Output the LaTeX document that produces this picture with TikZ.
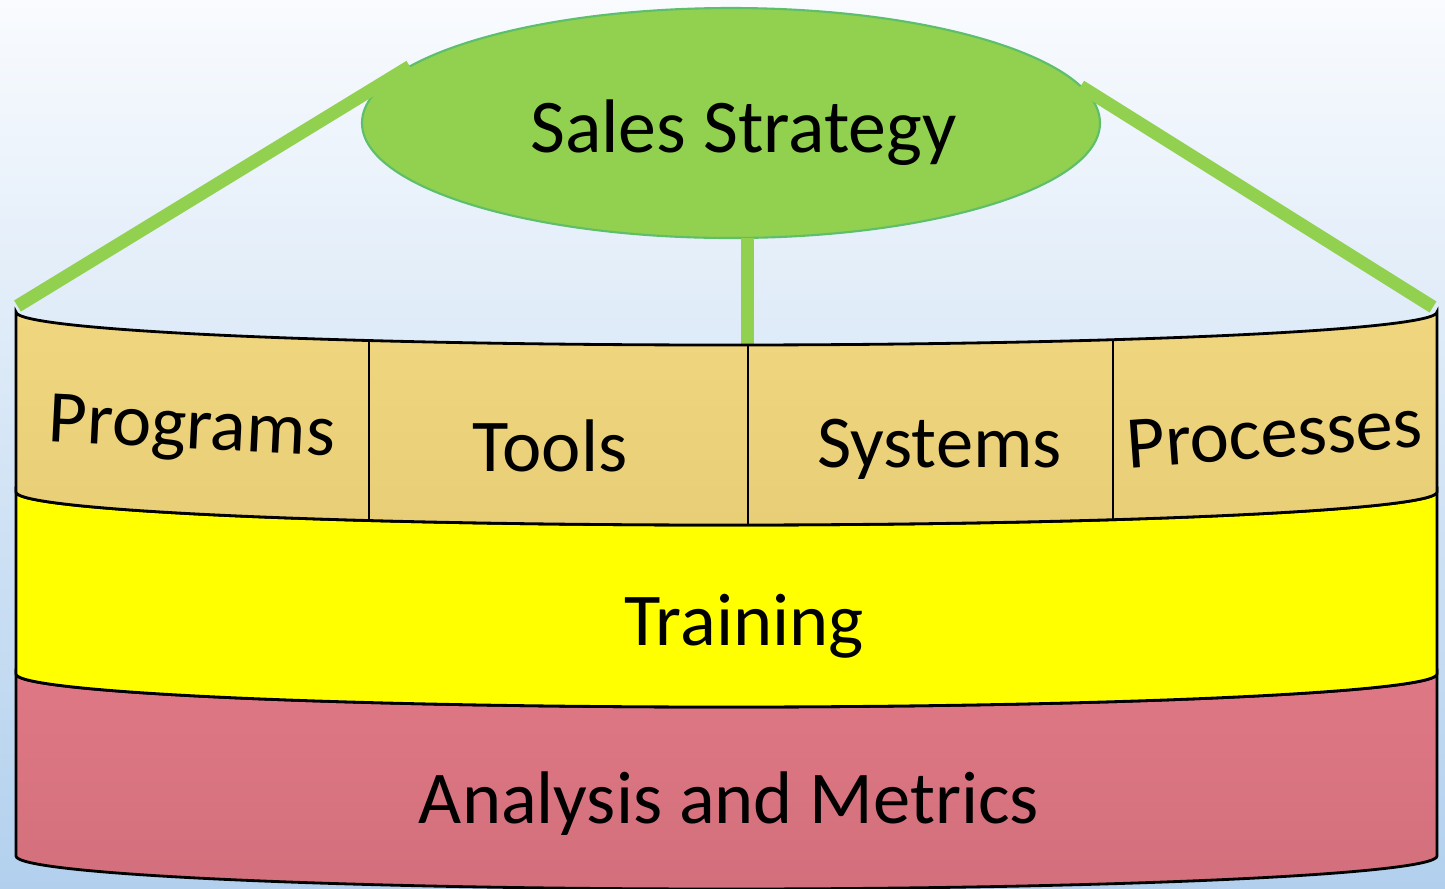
\documentclass[tikz,border=0pt]{standalone}
\usepackage{fontspec}
\setmainfont{Carlito}
\usetikzlibrary{shapes.geometric, positioning, calc}
\definecolor{strategygreen}{HTML}{92D050}
\definecolor{strategyedge}{HTML}{5DBE6B}
\definecolor{sandtop}{HTML}{F0D77F}
\definecolor{sandbottom}{HTML}{E8CE77}
\definecolor{trainyellow}{HTML}{FFFF00}
\definecolor{rosetop}{HTML}{DE7884}
\definecolor{rosebottom}{HTML}{D36F7C}
\definecolor{skytop}{HTML}{F9FBFE}
\definecolor{skybottom}{HTML}{B2D0EE}
\tikzset{
  strategy/.style={ellipse, draw=strategyedge, line width=0.6pt, fill=strategygreen, minimum width=7.38cm, minimum height=2.30cm, inner sep=0pt, outer sep=0pt},
  link/.style={line width=3.7pt, draw=strategygreen},
  band/.style={draw=black, line width=0.8pt},
  divider/.style={draw=black, line width=0.35pt},
  pillar/.style={font=\fontsize{21.2}{25}\selectfont, inner sep=0pt, anchor=base},
  headline/.style={font=\fontsize{21.6}{26}\selectfont, inner sep=0pt, anchor=base}
}

\begin{document}
\begin{tikzpicture}
    % Background
    \shade[top color=skytop, bottom color=skybottom] (0,0) rectangle (14.45,-8.88);
    \useasboundingbox (0,0) rectangle (14.45,-8.88);

    % Strategy ellipse and its links
    \node[strategy] (strategy) at (7.31,-1.23) {};
    \node[headline] (strategylabel) at (7.435,-1.52) {Sales Strategy};
    \coordinate (leftrim) at (0.175,-3.06);
    \coordinate (rightrim) at (14.33,-3.07);
    \coordinate (rimmid) at (7.475,-3.45);
    \draw[link] (strategy.170.8) -- (leftrim);
    \draw[link] (strategy.6.2) -- (rightrim);
    \draw[link] (strategy.south -| rimmid) -- (rimmid);

    % Bands
    \path[band, top color=rosetop, bottom color=rosebottom]
      (0.16,-6.74) arc[start angle=180, end angle=360, x radius=7.105, y radius=0.33]
      -- (14.37,-8.56) arc[start angle=0, end angle=-180, x radius=7.105, y radius=0.33] -- cycle;
    \path[band, fill=trainyellow]
      (0.16,-4.92) arc[start angle=180, end angle=360, x radius=7.105, y radius=0.33]
      -- (14.37,-6.74) arc[start angle=0, end angle=-180, x radius=7.105, y radius=0.33] -- cycle;
    \path[band, top color=sandtop, bottom color=sandbottom]
      (0.16,-3.12) arc[start angle=180, end angle=360, x radius=7.105, y radius=0.33]
      -- (14.37,-4.92) arc[start angle=0, end angle=-180, x radius=7.105, y radius=0.33] -- cycle;
    \draw[divider] (3.69,-3.405) -- (3.69,-5.205);
    \draw[divider] (7.48,-3.45) -- (7.48,-5.25);
    \draw[divider] (11.13,-3.397) -- (11.13,-5.197);

    % Labels
    \node[pillar, rotate=-2.9] (programs) at (1.91,-4.485) {Programs};
    \node[pillar] (tools) at (5.50,-4.71) {Tools};
    \node[pillar] (systems) at (9.395,-4.67) {Systems};
    \node[pillar, rotate=4.2] (processes) at (12.76,-4.575) {Processes};
    \node[pillar] (training) at (7.44,-6.45) {Training};
    \node[pillar] (analysis) at (7.29,-8.23) {Analysis and Metrics};
\end{tikzpicture}
\end{document}
